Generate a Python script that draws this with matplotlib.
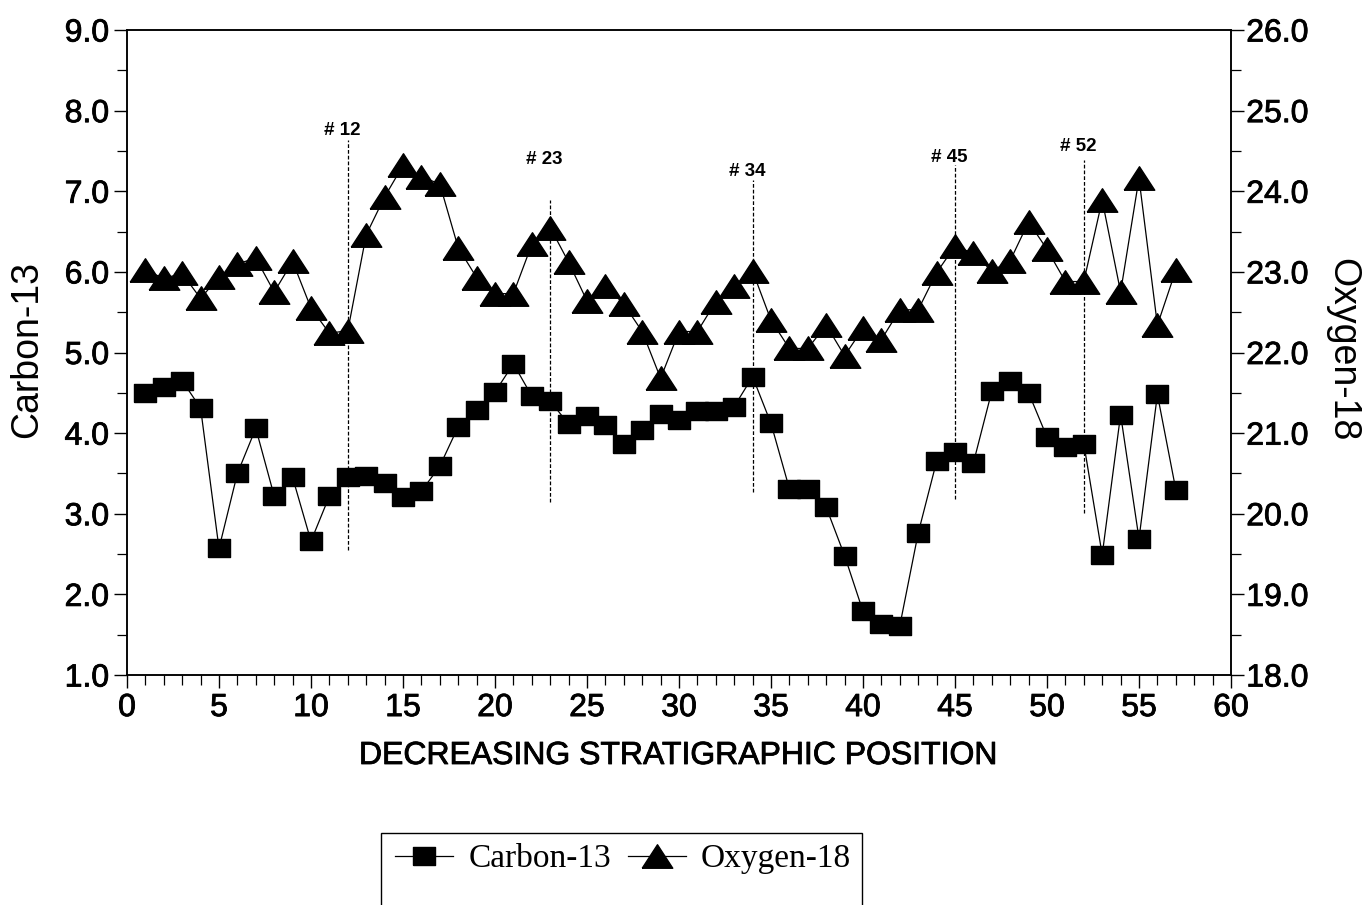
import matplotlib
matplotlib.use("Agg")
import matplotlib.pyplot as plt
from matplotlib import font_manager
from matplotlib import patheffects
from matplotlib.lines import Line2D
from matplotlib.patches import Rectangle
from matplotlib.ticker import MultipleLocator, FormatStrFormatter

# muestras en orden estratigráfico decreciente
position = list(range(1, 58))
carbon13 = [4.50, 4.57, 4.65, 4.31, 2.57, 3.50, 4.06, 3.22, 3.45, 2.66,
            3.22, 3.46, 3.47, 3.38, 3.21, 3.28, 3.59, 4.08, 4.29, 4.51,
            4.86, 4.46, 4.40, 4.11, 4.21, 4.10, 3.86, 4.04, 4.24, 4.16,
            4.27, 4.27, 4.33, 4.70, 4.12, 3.31, 3.31, 3.08, 2.48, 1.79,
            1.63, 1.61, 2.76, 3.65, 3.76, 3.63, 4.52, 4.65, 4.50, 3.95,
            3.83, 3.87, 2.49, 4.23, 2.69, 4.48, 3.30]
oxygen18 = [23.02, 22.92, 22.98, 22.67, 22.94, 23.10, 23.17, 22.75, 23.13, 22.55,
            22.24, 22.27, 23.46, 23.93, 24.32, 24.18, 24.09, 23.30, 22.93, 22.73,
            22.73, 23.34, 23.55, 23.12, 22.64, 22.83, 22.60, 22.26, 21.68, 22.26,
            22.26, 22.63, 22.83, 23.01, 22.40, 22.05, 22.05, 22.34, 21.96, 22.30,
            22.16, 22.53, 22.53, 22.99, 23.32, 23.23, 23.01, 23.14, 23.62, 23.28,
            22.88, 22.88, 23.89, 22.75, 24.16, 22.34, 23.02]

# muestras marcadas (líneas verticales), en unidades de Carbon-13
mark_pos = [12, 23, 34, 45, 52]
mark_lo = [2.55, 3.14, 3.27, 3.18, 3.01]
mark_hi = [7.64, 6.89, 7.14, 7.33, 7.39]
mark_text_y = [7.75, 7.39, 7.24, 7.42, 7.55]

installed = {f.name for f in font_manager.fontManager.ttflist}
if 'Liberation Sans Narrow' in installed:
    TICK_FONT, TICK_SIZE = 'Liberation Sans Narrow', 27
else:
    TICK_FONT, TICK_SIZE = 'Liberation Sans', 23
SANS = 'Liberation Sans'
SERIF = 'Liberation Serif'
# trazo fino para engrosar un poco el texto
heavy = [patheffects.withStroke(linewidth=0.6, foreground='black')]

# marcadores un poco más anchos que altos
SQUARE = [(-1.2, -1), (1.2, -1), (1.2, 1), (-1.2, 1), (-1.2, -1)]
TRIANGLE = [(-1.3, -1), (1.3, -1), (0, 1), (-1.3, -1)]

W, H = 1372, 905
fig = plt.figure(figsize=(W / 100, H / 100), dpi=100)
ax = fig.add_axes([127 / W, 1 - 675 / H, (1231 - 127) / W, (675 - 30) / H])
ax2 = ax.twinx()

ax.plot(position, carbon13, color='black', lw=0.9, marker=SQUARE, ms=16,
        markerfacecolor='black', markeredgecolor='black', zorder=3)
ax2.plot(position, oxygen18, color='black', lw=0.9, marker=TRIANGLE, ms=22,
         markerfacecolor='black', markeredgecolor='black', zorder=3)

for x, lo, hi, ty in zip(mark_pos, mark_lo, mark_hi, mark_text_y):
    ax.plot([x, x], [lo, hi], color='black', lw=0.9, ls=(0, (3, 1.6)), zorder=2)
    ax.text(x - 0.3, ty, '# %d' % x, ha='center', va='center',
            fontsize=13.5, fontweight='bold', family=SANS)

ax.set_xlim(0, 60)
ax.set_ylim(1, 9)
ax2.set_ylim(18, 26)

ax.xaxis.set_major_locator(MultipleLocator(5))
ax.xaxis.set_minor_locator(MultipleLocator(1))
ax.yaxis.set_major_locator(MultipleLocator(1))
ax.yaxis.set_minor_locator(MultipleLocator(0.5))
ax2.yaxis.set_major_locator(MultipleLocator(1))
ax2.yaxis.set_minor_locator(MultipleLocator(0.5))
ax.yaxis.set_major_formatter(FormatStrFormatter('%.1f'))
ax2.yaxis.set_major_formatter(FormatStrFormatter('%.1f'))

for a in (ax, ax2):
    for s in a.spines.values():
        s.set_linewidth(1.1)
ax.tick_params(axis='both', which='major', direction='out', length=9.5, width=1.0,
               labelsize=TICK_SIZE, pad=3.5)
ax.tick_params(axis='both', which='minor', direction='out', length=7.5, width=0.9)
ax2.tick_params(axis='y', which='major', direction='out', length=9, width=1.0,
                labelsize=TICK_SIZE, pad=2)
ax2.tick_params(axis='y', which='minor', direction='out', length=7.5, width=0.9)
for lab in ax.get_xticklabels() + ax.get_yticklabels() + ax2.get_yticklabels():
    lab.set_family(TICK_FONT)
    lab.set_path_effects(heavy)

fig.text(27 / W, 1 - 349 / H, 'Carbon-13', rotation=90, ha='center', va='center',
         fontsize=27, family=SANS)
fig.text(1342 / W, 1 - 350 / H, 'Oxygen-18', rotation=-90, ha='center', va='center',
         fontsize=27, family=SANS)
fig.text(679 / W, 1 - 756 / H, 'DECREASING STRATIGRAPHIC POSITION', ha='center',
         va='center', fontsize=TICK_SIZE, family=TICK_FONT, path_effects=heavy)

handles = [
    Line2D([], [], color='black', lw=0.9, marker=SQUARE, ms=16),
    Line2D([], [], color='black', lw=0.9, marker=TRIANGLE, ms=22),
]
fig.legend(handles, ['Carbon-13', 'Oxygen-18'], loc='center left',
           bbox_to_anchor=(395 / W, 1 - 859 / H), ncol=2, frameon=False,
           borderpad=0, borderaxespad=0, handlelength=1.75, handletextpad=0.45,
           columnspacing=0.5, prop={'family': SERIF, 'size': 24})
fig.add_artist(Rectangle((381 / W, -0.03), (862 - 381) / W, 0.03 + 1 - 833 / H,
                         transform=fig.transFigure, fill=False, lw=1.0,
                         edgecolor='black', clip_on=False))

fig.savefig('out.png', dpi=100)
